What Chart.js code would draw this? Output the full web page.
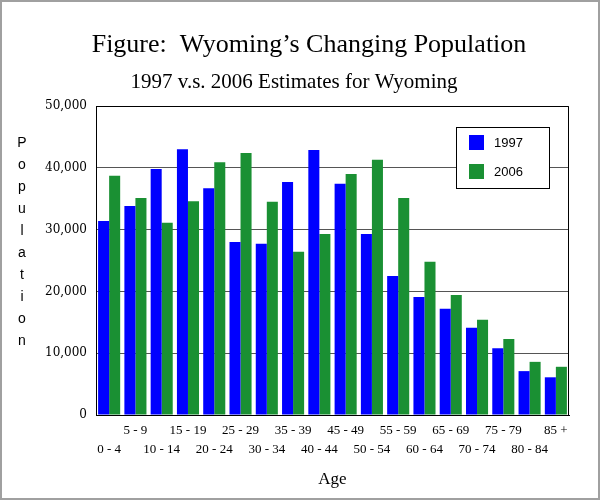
<!DOCTYPE html>
<html>
<head>
<meta charset="utf-8">
<script src="https://cdn.jsdelivr.net/npm/chart.js@4"></script>
<style>
  html, body { margin: 0; padding: 0; background: #fff; }
  #wrap { width: 600px; height: 500px; }
</style>
</head>
<body>
<div id="wrap"><canvas id="c" width="600" height="500"></canvas></div>
<script>
const titleText = "Figure:  Wyoming\u2019s Changing Population";
const subtitleText = "1997 v.s. 2006 Estimates for Wyoming";
const xAxisTitle = "Age";
const yAxisTitle = "Population";
const categories = ['0 - 4','5 - 9','10 - 14','15 - 19','20 - 24','25 - 29','30 - 34','35 - 39','40 - 44','45 - 49','50 - 54','55 - 59','60 - 64','65 - 69','70 - 74','75 - 79','80 - 84','85 +'];
const seriesNames = ['1997', '2006'];
const pop1997 = [31400, 33800, 39800, 43000, 36700, 28000, 27700, 37700, 42900, 37400, 29300, 22500, 19100, 17200, 14100, 10800, 7100, 6100];
const pop2006 = [38700, 35100, 31100, 34600, 40900, 42400, 34500, 26400, 29300, 39000, 41300, 35100, 24800, 19400, 15400, 12300, 8600, 7800];
const yMin = 0, yMax = 50000, yStep = 10000;

const colors = ['#0000FF', '#1A9033'];
const serif = '"Liberation Serif", "Times New Roman", serif';

const pagePlugin = {
  id: 'page',
  beforeDraw(chart) {
    const ctx = chart.ctx;
    ctx.save();
    ctx.fillStyle = '#ffffff';
    ctx.fillRect(0, 0, chart.width, chart.height);
    ctx.restore();
  },
  afterDraw(chart) {
    const ctx = chart.ctx;
    const a = chart.chartArea;
    ctx.save();
    // plot box top/right
    ctx.strokeStyle = '#000';
    ctx.lineWidth = 1;
    ctx.beginPath();
    ctx.moveTo(Math.round(a.left) + 0.5, Math.round(a.top) + 0.5);
    ctx.lineTo(Math.round(a.right) - 0.5, Math.round(a.top) + 0.5);
    ctx.lineTo(Math.round(a.right) - 0.5, Math.round(a.bottom));
    ctx.stroke();

    // titles
    ctx.fillStyle = '#000';
    ctx.textAlign = 'center';
    ctx.textBaseline = 'alphabetic';
    ctx.font = '26px ' + serif;
    ctx.fillText(titleText, 309, 52);
    ctx.font = '21px ' + serif;
    ctx.fillText(subtitleText, 294, 88);

    // vertical y-axis title, one letter per line
    ctx.font = '14px "Liberation Sans", Arial, sans-serif';
    const letters = yAxisTitle.split('');
    letters.forEach((ch, i) => ctx.fillText(ch, 22, 147 + i * 22));

    // legend box
    const lx = 456, ly = 127, lw = 93, lh = 61;
    ctx.fillStyle = '#fff';
    ctx.fillRect(lx, ly, lw, lh);
    ctx.strokeStyle = '#000';
    ctx.strokeRect(lx + 0.5, ly + 0.5, lw, lh);
    ctx.font = '13px "Liberation Sans", Arial, sans-serif';
    ctx.textAlign = 'left';
    ctx.textBaseline = 'middle';
    chart.data.datasets.forEach((ds, i) => {
      const sy = 135 + i * 29;
      ctx.fillStyle = ds.backgroundColor;
      ctx.fillRect(469, sy, 15, 15);
      ctx.fillStyle = '#000';
      ctx.fillText(ds.label, 494, sy + 8);
    });

    // page border
    ctx.strokeStyle = '#a0a0a0';
    ctx.lineWidth = 2;
    ctx.strokeRect(1, 1, chart.width - 2, chart.height - 2);
    ctx.restore();
  }
};

new Chart(document.getElementById('c'), {
  type: 'bar',
  data: {
    labels: categories,
    datasets: [
      { label: seriesNames[0], data: pop1997, backgroundColor: colors[0], borderWidth: 0 },
      { label: seriesNames[1], data: pop2006, backgroundColor: colors[1], borderWidth: 0 }
    ]
  },
  options: {
    responsive: false,
    animation: false,
    devicePixelRatio: 1,
    layout: { padding: { left: 0, right: 31, top: 106, bottom: 0 } },
    datasets: { bar: { categoryPercentage: 0.84, barPercentage: 1.0 } },
    plugins: {
      legend: { display: false },
      tooltip: { enabled: false },
      title: { display: false },
      subtitle: { display: false }
    },
    scales: {
      x: {
        grid: { display: false, drawTicks: false },
        border: { display: true, color: '#000', width: 1 },
        ticks: {
          autoSkip: false,
          maxRotation: 0,
          minRotation: 0,
          padding: 6.5,
          color: '#000',
          font: { family: serif, size: 13, lineHeight: 19 / 13 },
          callback: function (value, index) {
            const lab = this.getLabelForValue(value);
            return index % 2 === 0 ? ['', lab] : [lab, ''];
          }
        },
        title: {
          display: true,
          text: xAxisTitle,
          color: '#000',
          font: { family: serif, size: 17, lineHeight: 1.2 },
          padding: { top: 0, bottom: 10 }
        },
        afterFit(scale) { scale.height = 85; }
      },
      y: {
        min: yMin,
        max: yMax,
        grid: { color: '#555555', lineWidth: 1, drawTicks: false },
        border: { display: true, color: '#000', width: 1 },
        ticks: {
          stepSize: yStep,
          padding: 9,
          color: '#000',
          font: { family: '"DejaVu Serif", serif', size: 12 },
          callback: (v) => Number(v).toLocaleString('en-US')
        },
        afterFit(scale) { scale.width = 96; }
      }
    }
  },
  plugins: [pagePlugin]
});
</script>
</body>
</html>
